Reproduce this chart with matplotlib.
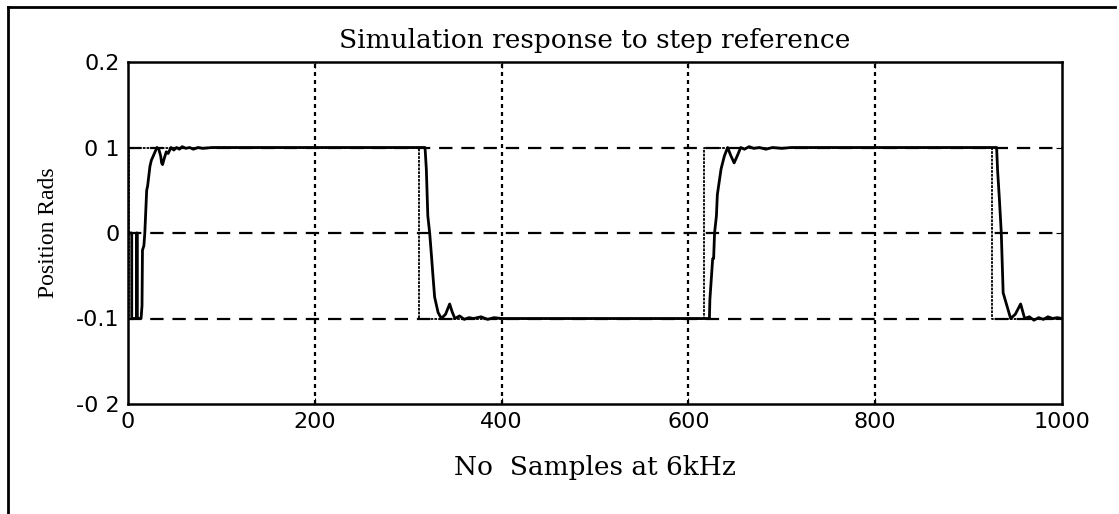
import numpy as np
import matplotlib.pyplot as plt
from matplotlib.lines import Line2D

# reference square wave (thin trace)
ref_x = [0, 1, 1, 312, 312, 617, 617, 925, 925, 1000]
ref_y = [-0.1, -0.1, 0.1, 0.1, -0.1, -0.1, 0.1, 0.1, -0.1, -0.1]

# simulated position response
resp_x = [0, 4, 4, 9, 9, 10, 10, 14, 15, 15.5, 17, 18, 20, 21, 23.5, 25, 27, 29, 31,
          33, 35, 36, 37, 39, 41, 43, 46, 49, 52, 55, 58, 62, 66, 70, 75, 80, 90, 100,
          318, 319.4, 321, 323, 324.8, 326.5, 328.3, 332, 335.5, 340, 344.4, 347, 350,
          355, 360, 365, 370, 378, 385, 392, 400,
          622.5, 623, 626, 627, 628, 630, 631, 635, 638.5, 642, 645.6, 649, 653, 656,
          660, 665, 670, 676, 683, 690, 700, 710,
          930, 931, 933, 935, 937, 941, 945, 950, 955.7, 958, 960, 965, 970, 975, 980,
          985, 990, 995, 1000]
resp_y = [0, 0, -0.1, -0.1, 0, 0, -0.1, -0.1, -0.085, -0.02, -0.015, 0.0, 0.05, 0.055,
          0.078, 0.085, 0.09, 0.095, 0.1, 0.098, 0.09, 0.082, 0.08, 0.088, 0.095, 0.093,
          0.1, 0.097, 0.1, 0.098, 0.101, 0.099, 0.1, 0.098, 0.1, 0.099, 0.1, 0.1,
          0.1, 0.075, 0.02, 0.0, -0.025, -0.05, -0.075, -0.093, -0.1, -0.095, -0.083,
          -0.092, -0.1, -0.097, -0.101, -0.099, -0.1, -0.098, -0.101, -0.099, -0.1,
          -0.1, -0.078, -0.03, -0.03, 0.0, 0.02, 0.045, 0.075, 0.09, 0.1, 0.09, 0.082,
          0.092, 0.1, 0.098, 0.101, 0.099, 0.1, 0.098, 0.1, 0.099, 0.1,
          0.1, 0.074, 0.039, 0.0, -0.07, -0.085, -0.1, -0.095, -0.083, -0.092, -0.1,
          -0.098, -0.102, -0.099, -0.101, -0.098, -0.1, -0.099, -0.1]

x_ticks = [0, 200, 400, 600, 800, 1000]
y_ticks = [0.2, 0.1, 0, -0.1, -0.2]
y_labels = ['0.2', '0 1', '0', '-0.1', '-0 2']

fig = plt.figure(figsize=(11.19, 5.14), dpi=100)
ax = fig.add_axes([128/1119, 1 - 404/514, (1062 - 128)/1119, (404 - 62)/514])

ax.plot(ref_x, ref_y, color='black', lw=1.3, linestyle=(0, (1.5, 0.6)))
ax.plot(resp_x, resp_y, color='black', lw=2.0)

ax.set_xlim(0, 1000)
ax.set_ylim(-0.2, 0.2)
ax.set_xticks(x_ticks)
ax.set_xticklabels([str(t) for t in x_ticks])
ax.set_yticks(y_ticks)
ax.set_yticklabels(y_labels)
ax.tick_params(direction='in', length=4, top=True, right=True, labelsize=16, pad=6)

for v in [200, 400, 600, 800]:
    ax.axvline(v, color='black', lw=1.6, linestyle=(0, (1.8, 1.8)), zorder=0)
for h in [0.1, 0, -0.1]:
    ax.axhline(h, color='black', lw=1.6, linestyle=(0, (6, 4)), zorder=0)

for s in ax.spines.values():
    s.set_linewidth(1.8)

wide_serif = ['DejaVu Serif']
ax.set_title('Simulation response to step reference', fontsize=19, family=wide_serif, pad=10)
ax.set_xlabel('No  Samples at 6kHz', fontsize=19, family=wide_serif, labelpad=16)
ax.set_ylabel('Position Rads', fontsize=17, family=['Liberation Serif'], labelpad=12)

# frame of the scanned page
fig.add_artist(Line2D([8/1119, 8/1119], [0, 1 - 7/514], color='black', lw=2))
fig.add_artist(Line2D([8/1119, 1115/1119], [1 - 7/514, 1 - 7/514], color='black', lw=2))

fig.savefig('out.png', dpi=100)
